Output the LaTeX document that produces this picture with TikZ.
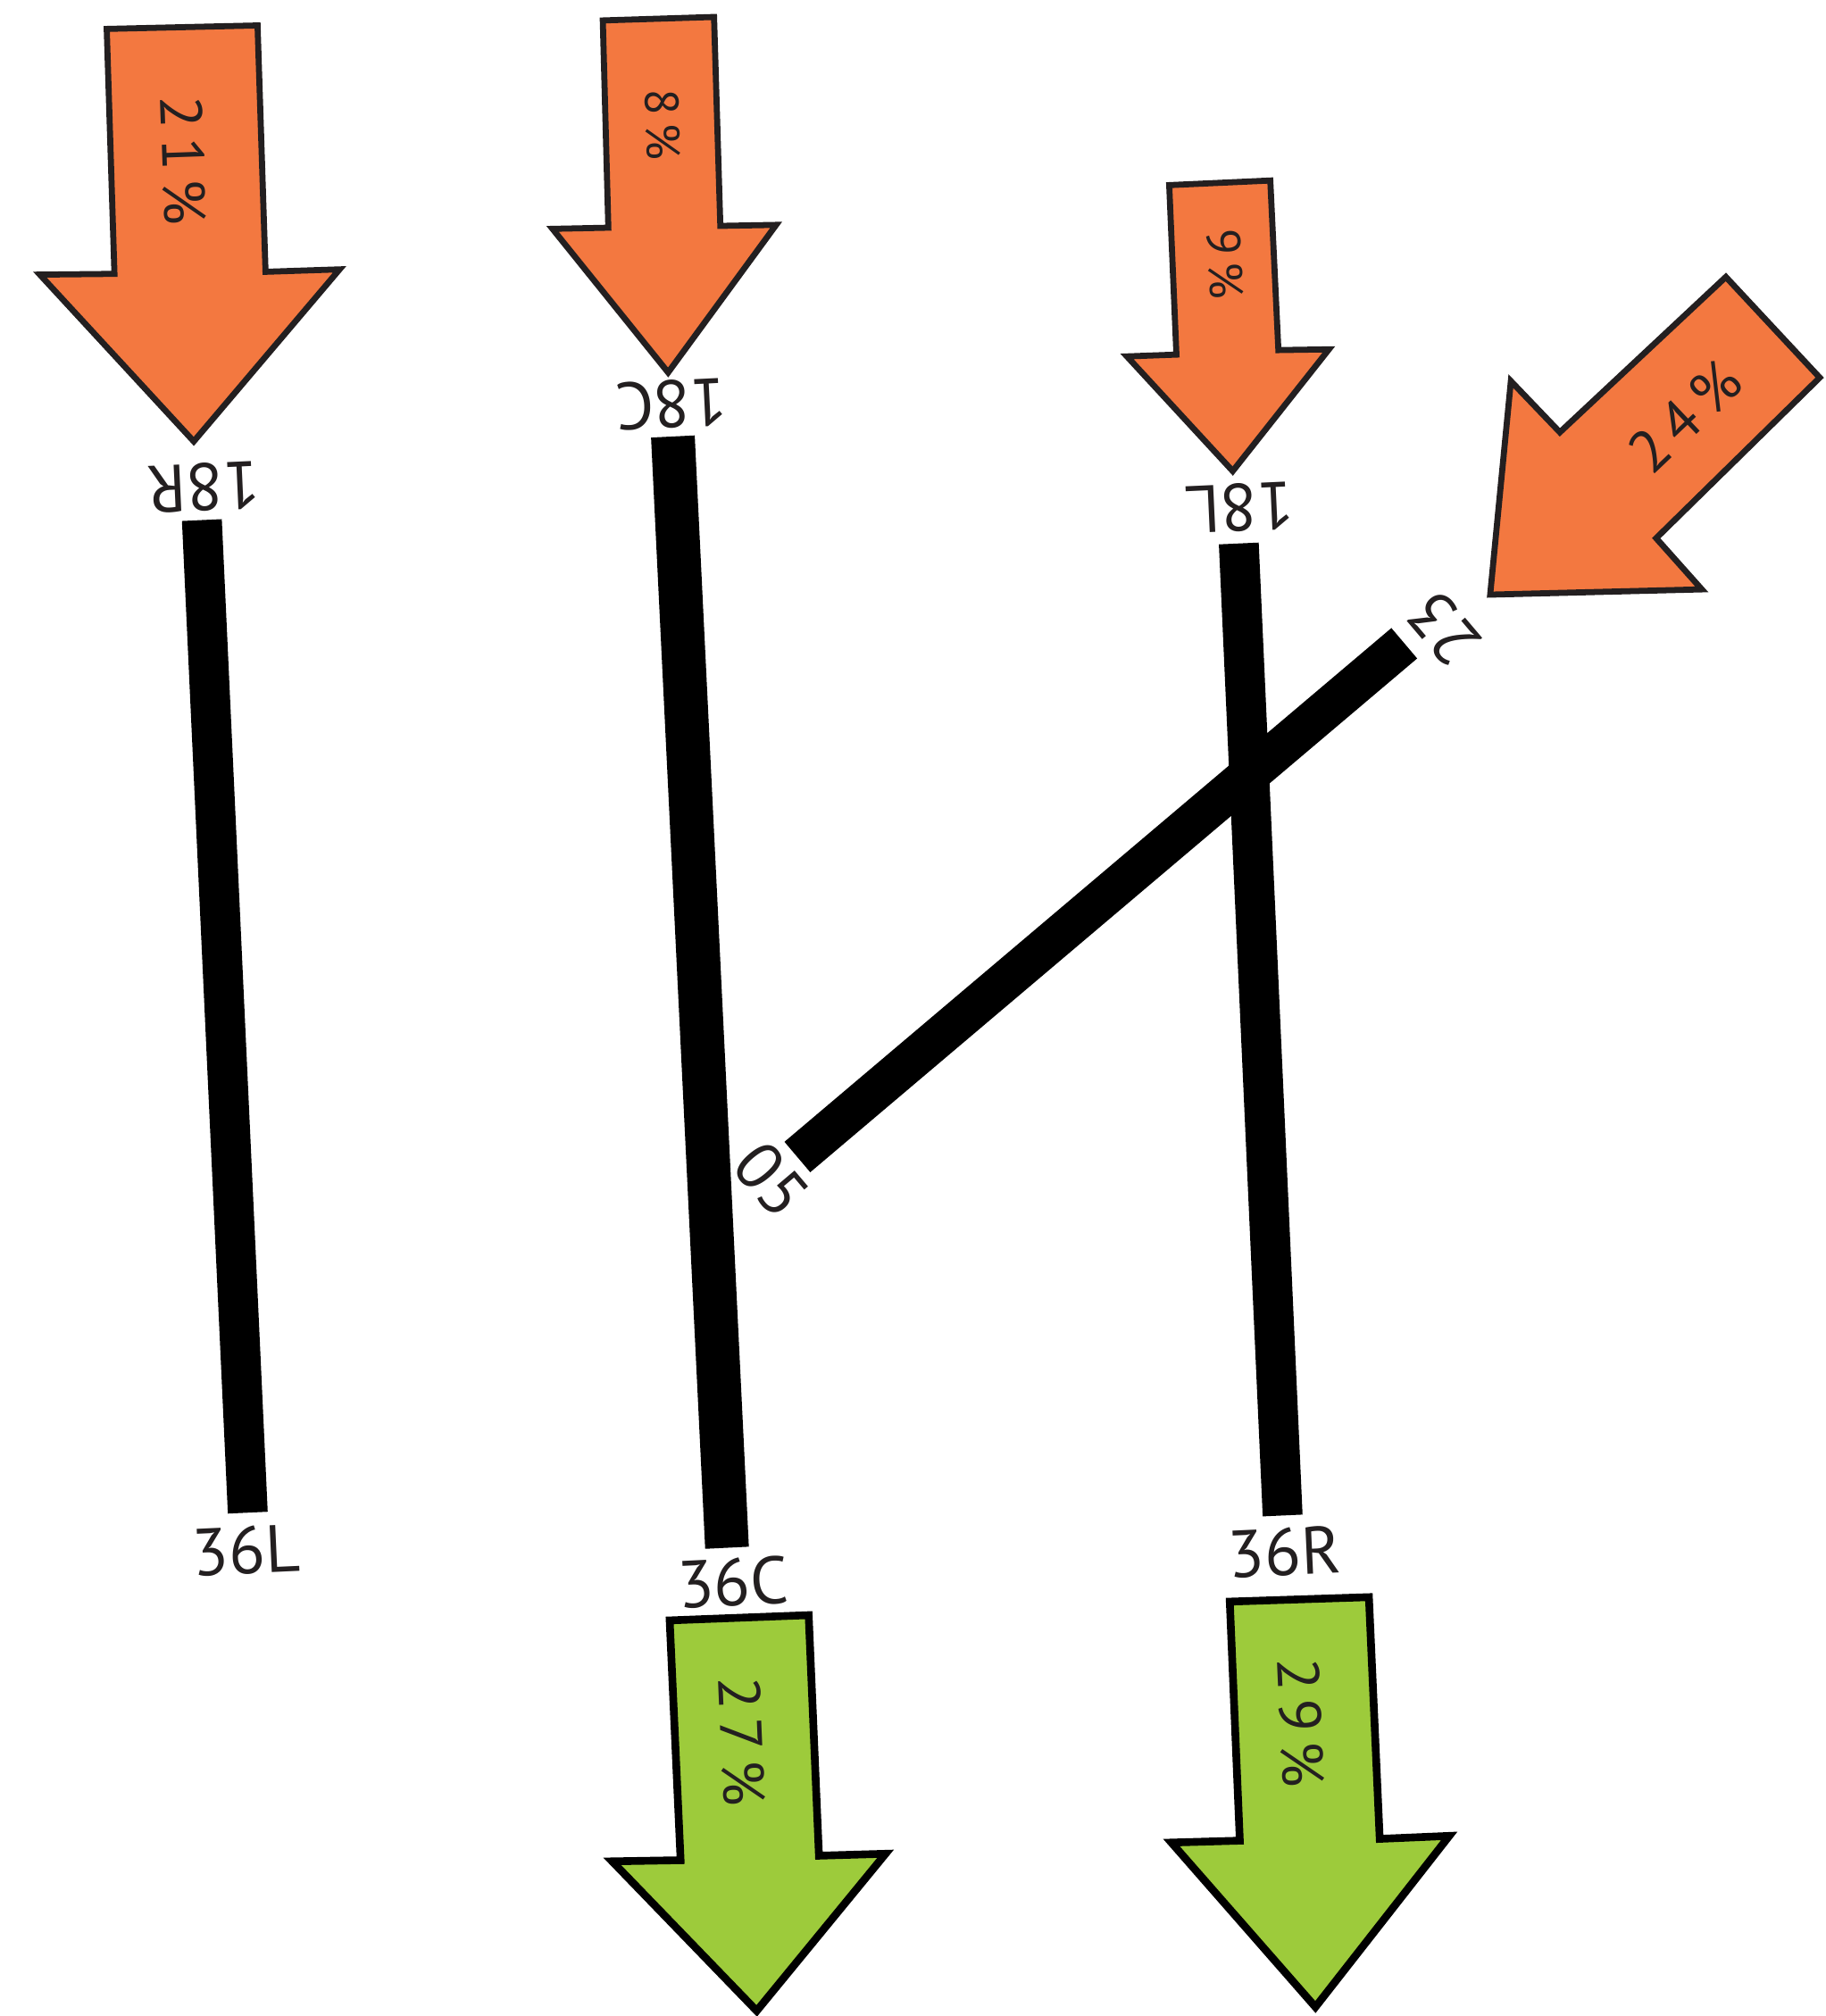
\documentclass[tikz,border=0pt]{standalone}
\usepackage{fontspec}
\setmainfont{PT Sans}
\newfontfamily\pctfont[LetterSpace=16]{PT Sans}
\definecolor{arrorange}{RGB}{243,120,64}
\definecolor{arrgreen}{RGB}{157,203,59}
\definecolor{ink}{RGB}{35,31,32}
\begin{document}
\begin{tikzpicture}[x=0.5pt,y=-0.5pt,
  orangearrow/.style={fill=arrorange,draw=ink,line width=2.35pt,line join=miter},
  greenarrow/.style={fill=arrgreen,draw=black,line width=3pt,line join=miter},
  runway/.style={line width=15.5pt,line cap=butt,draw=black},
  widerunway/.style={line width=17pt,line cap=butt,draw=black},
  rwylabel/.style={text=ink,font=\fontsize{26}{26}\selectfont,inner sep=0pt},
  pctlabel/.style={text=ink,font=\pctfont\fontsize{23}{23}\selectfont,inner sep=0pt},
  smallpct/.style={text=ink,font=\pctfont\fontsize{18.5}{18.5}\selectfont,inner sep=0pt}]
\useasboundingbox (0,0) rectangle (1420,1568);

% runway ends
\coordinate (r18R) at (157,404.5);
\coordinate (r36L) at (192.7,1176.5);
\coordinate (r18C) at (523.3,339.5);
\coordinate (r36C) at (565.4,1203.8);
\coordinate (r18L) at (963.4,422.7);
\coordinate (r36R) at (997.5,1178.7);
\coordinate (r05) at (620.1,899.9);
\coordinate (r23) at (1092.1,500.3);

% runways
\draw[runway] (r18R) -- (r36L);
\draw[widerunway] (r18C) -- (r36C);
\draw[runway] (r18L) -- (r36R);
\draw[runway] (r05) -- (r23);

% arrival arrows (orange)
\draw[orangearrow] (83,22.5) -- (200.3,19.8) -- (206.5,211.4) -- (264.1,209.5) -- (150.7,343.3) -- (31,213.6) -- (89,213) -- cycle;
\draw[orangearrow] (468.8,15.9) -- (555.3,13.2) -- (560.2,175.7) -- (603.6,174.9) -- (519.6,289.7) -- (429.7,178) -- (473.1,177.1) -- cycle;
\draw[orangearrow] (909.3,144) -- (987.9,140.4) -- (994.2,272.3) -- (1033.5,271.7) -- (958.7,366.4) -- (876.4,277.2) -- (914.9,275.8) -- cycle;
\draw[orangearrow] (1342.2,215.4) -- (1415.2,293.7) -- (1288,418.6) -- (1323.5,458.4) -- (1158.9,462.5) -- (1175,296.4) -- (1213.1,336.2) -- cycle;

% departure arrows (green)
\draw[greenarrow] (520.8,1260.3) -- (628.9,1256.2) -- (636.9,1443.3) -- (688.7,1441.8) -- (588.5,1564) -- (476.1,1447.7) -- (529.3,1446.8) -- cycle;
\draw[greenarrow] (956.4,1245.7) -- (1064.6,1242.2) -- (1073,1430.2) -- (1127.1,1427.9) -- (1023,1561) -- (911,1433.1) -- (964.2,1431.6) -- cycle;

% percentages
\node[pctlabel,rotate=-88] (p21) at (142.6,125) {21\%};
\node[smallpct,rotate=-88.5] (p8) at (515.3,97) {8\%};
\node[smallpct,rotate=-87.4] (p9) at (953,205.5) {9\%};
\node[pctlabel,rotate=43.5] (p24) at (1310.4,324) {24\%};
\node[pctlabel,rotate=-87.6] (p27) at (576.6,1354.4) {27\%};
\node[pctlabel,rotate=-87.5] (p29) at (1011.4,1339.8) {29\%};

% runway designators
\node[rwylabel,rotate=182.6] (l18R) at (158,379) {18R};
\node[rwylabel,rotate=182.8] (l18C) at (522,314.5) {18C};
\node[rwylabel,rotate=182.6] (l18L) at (964,395) {18L};
\node[rwylabel,rotate=130.3] (l23) at (1123,489) {23};
\node[rwylabel,rotate=-49.7] (l05) at (600,917.8) {05};
\node[rwylabel,rotate=2.6] (l36L) at (191.3,1205.8) {36L};
\node[rwylabel,rotate=2.8] (l36C) at (570,1230.6) {36C};
\node[rwylabel,rotate=2.6] (l36R) at (999,1207.3) {36R};
\end{tikzpicture}
\end{document}
